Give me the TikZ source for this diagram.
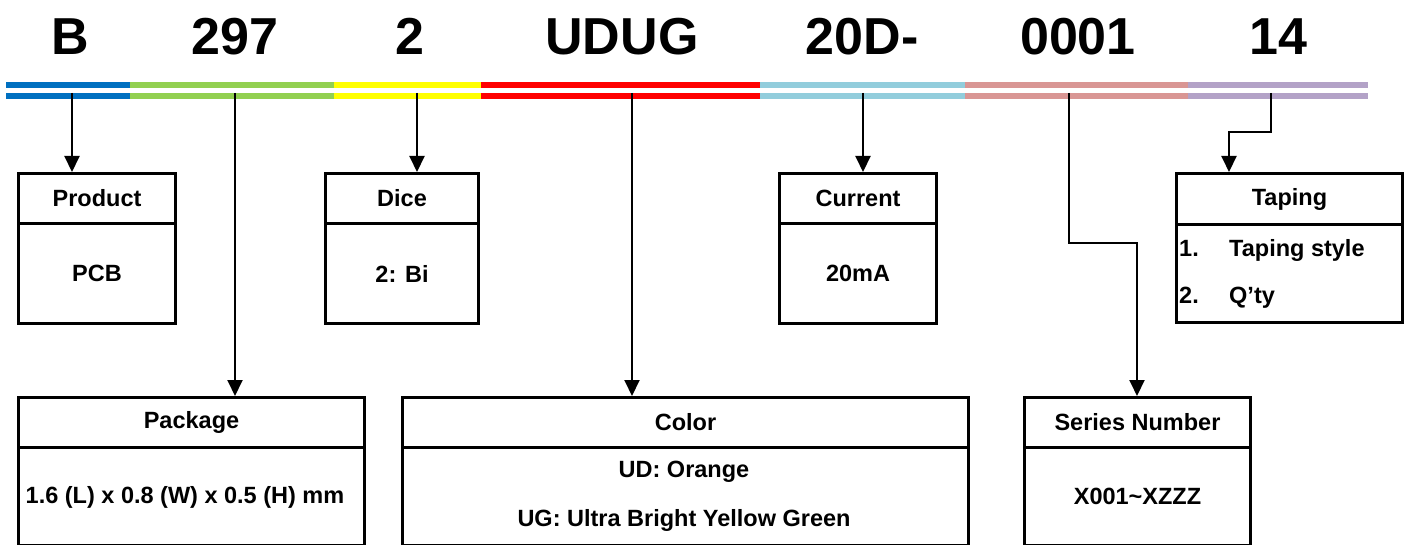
\documentclass[tikz,border=0pt]{standalone}
\usepackage{fontspec}
\setmainfont{Liberation Sans}
\usetikzlibrary{arrows.meta}
\definecolor{cBlue}{HTML}{0070C0}
\definecolor{cGreen}{HTML}{92D050}
\definecolor{cYellow}{HTML}{FFFF00}
\definecolor{cRed}{HTML}{FF0000}
\definecolor{cLblue}{HTML}{92CDDC}
\definecolor{cPink}{HTML}{D99694}
\definecolor{cPurple}{HTML}{B3A2C7}
\tikzset{
  x=1pt,y=-1pt,
  big/.style={font=\fontsize{52}{56}\selectfont\bfseries, anchor=base, inner sep=0},
  txt/.style={font=\fontsize{23.5}{27}\selectfont\bfseries, inner sep=0},
  boxpart/.style={draw, line width=3pt, inner sep=0, anchor=north west, font=\fontsize{23.5}{27}\selectfont\bfseries, align=center},
  arr/.style={line width=2pt, -{Triangle[width=15pt,length=16pt]}},
  bar/.style={line width=6pt},
}
\newcommand{\codebox}[7]{% name, x1, x2, ytop, ydiv, ybot, header
  \node[boxpart, minimum width={#3-#2}, minimum height={#5-#4}] (#1H) at (#2,#4) {\raisebox{-2pt}{#7}};
  \node[boxpart, minimum width={#3-#2}, minimum height={#6-#5}] (#1B) at (#2,#5) {};
}
\begin{document}
\begin{tikzpicture}
\useasboundingbox (0,0) rectangle (1408,545);
% big code letters
\node[big] (tB) at (70,55) {B};
\node[big] (t297) at (235,55) {297};
\node[big] (t2) at (410,55) {2};
\node[big] (tUDUG) at (622,55) {UDUG};
\node[big] (t20D) at (862,55) {20D-};
\node[big] (t0001) at (1078,55) {0001};
\node[big] (t14) at (1278,55) {14};
% colour bars
\foreach \a/\b/\c in {6/130/cBlue,130/334/cGreen,334/481/cYellow,481/760/cRed,760/965/cLblue,965/1188/cPink,1188/1368/cPurple}{
  \draw[bar,\c] (\a,85) -- (\b,85);
  \draw[bar,\c] (\a,96) -- (\b,96);
}
% start points on the bars
\coordinate (sProd) at (72,93);
\coordinate (sPack) at (235,93);
\coordinate (sDice) at (417,93);
\coordinate (sColor) at (632,93);
\coordinate (sCur) at (863,93);
\coordinate (sSer) at (1069,93);
\coordinate (sTap) at (1271,93);
% boxes
\codebox{prod}{17}{174}{172}{222}{322}{Product}
\node[txt] (prodT) at (prodB.center) {PCB};
\codebox{dice}{324}{477}{172}{222}{322}{Dice}
\node[txt] (diceT) at (diceB.center) {2: Bi};
\codebox{cur}{778}{935}{172}{222}{322}{Current}
\node[txt] (curT) at (curB.center) {20mA};
\codebox{tap}{1175}{1401}{172}{223}{321}{Taping}
\node[txt, anchor=base west] (tap1n) at (1179,257) {1.};
\node[txt, anchor=base west] (tap1t) at (1229,257) {Taping style};
\node[txt, anchor=base west] (tap2n) at (1179,304) {2.};
\node[txt, anchor=base west] (tap2t) at (1229,304) {Q’ty};
\codebox{pack}{17}{363}{396}{446}{544}{Package}
\node[txt] (packT) at (185,497) {1.6 (L) x 0.8 (W) x 0.5 (H) mm};
\codebox{col}{401}{967}{396}{446}{544}{Color}
\node[txt] (colT1) at (684,472) {UD: Orange};
\node[txt] (colT2) at (684,520) {UG: Ultra Bright Yellow Green};
\codebox{ser}{1023}{1249}{396}{446}{544}{Series Number}
\node[txt] (serT) at (serB.center) {X001\char`\~XZZZ};
% connectors
\draw[arr] (sProd) -- (sProd |- prodH.north);
\draw[arr] (sDice) -- (sDice |- diceH.north);
\draw[arr] (sCur) -- (sCur |- curH.north);
\draw[arr] (sPack) -- (sPack |- packH.north);
\draw[arr] (sColor) -- (sColor |- colH.north);
\draw[arr] (sSer) -- (1069,243) -- (1137,243) -- (1137,396);
\draw[arr] (sTap) -- (1271,132) -- (1229,132) -- (1229,172);
\end{tikzpicture}
\end{document}
